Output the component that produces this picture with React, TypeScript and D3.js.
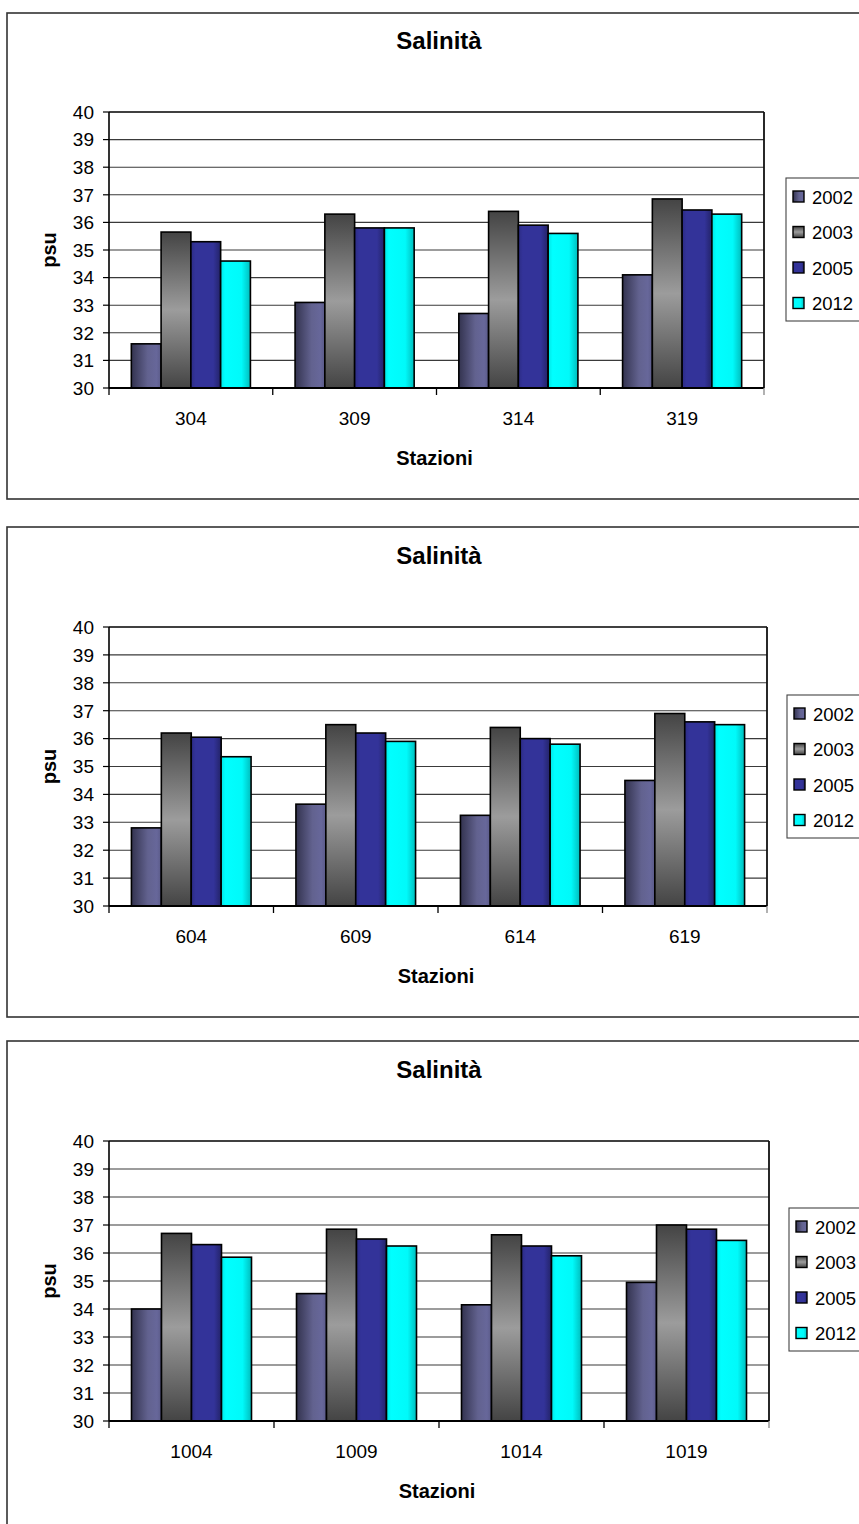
import React from "react";
import * as d3 from "d3";

// Series and categories
const years = ["2002", "2003", "2005", "2012"];
const yTicks = [30, 31, 32, 33, 34, 35, 36, 37, 38, 39, 40];

const stationsA = ["304", "309", "314", "319"];
const a2002 = [31.6, 33.1, 32.7, 34.1];
const a2003 = [35.65, 36.3, 36.4, 36.85];
const a2005 = [35.3, 35.8, 35.9, 36.45];
const a2012 = [34.6, 35.8, 35.6, 36.3];

const stationsB = ["604", "609", "614", "619"];
const b2002 = [32.8, 33.65, 33.25, 34.5];
const b2003 = [36.2, 36.5, 36.4, 36.9];
const b2005 = [36.05, 36.2, 36.0, 36.6];
const b2012 = [35.35, 35.9, 35.8, 36.5];

const stationsC = ["1004", "1009", "1014", "1019"];
const c2002 = [34.0, 34.55, 34.15, 34.95];
const c2003 = [36.7, 36.85, 36.65, 37.0];
const c2005 = [36.3, 36.5, 36.25, 36.85];
const c2012 = [35.85, 36.25, 35.9, 36.45];

const title = "Salinità";
const xTitle = "Stazioni";
const yTitle = "psu";

const FONT = "'Liberation Sans', Arial, Helvetica, sans-serif";

type Layout = {
  frameTop: number;
  frameBottom: number;
  left: number;
  right: number;
  top: number;
  bottom: number;
  legendX: number;
  legendY: number;
};

const layouts: Layout[] = [
  { frameTop: 13, frameBottom: 499, left: 109, right: 764, top: 112, bottom: 388, legendX: 786, legendY: 178 },
  { frameTop: 527, frameBottom: 1017, left: 109, right: 767, top: 627, bottom: 906, legendX: 787, legendY: 695 },
  { frameTop: 1041, frameBottom: 1560, left: 109, right: 769, top: 1141, bottom: 1421, legendX: 789, legendY: 1208 },
];

const fillFor = (year: string) => `url(#grad-${year})`;

function Gradients() {
  return (
    <defs>
      <linearGradient id="grad-2002" x1="0" y1="0" x2="1" y2="0">
        <stop offset="0" stopColor="#33334f" />
        <stop offset="0.55" stopColor="#62628f" />
        <stop offset="0.85" stopColor="#67679a" />
        <stop offset="1" stopColor="#5a5a88" />
      </linearGradient>
      <linearGradient id="grad-2003" x1="0" y1="0" x2="0" y2="1">
        <stop offset="0" stopColor="#444444" />
        <stop offset="0.5" stopColor="#9c9c9c" />
        <stop offset="1" stopColor="#444444" />
      </linearGradient>
      <linearGradient id="grad-2005" x1="0" y1="0" x2="1" y2="0">
        <stop offset="0" stopColor="#2c2c84" />
        <stop offset="0.15" stopColor="#333399" />
        <stop offset="0.75" stopColor="#333399" />
        <stop offset="1" stopColor="#232368" />
      </linearGradient>
      <linearGradient id="grad-2012" x1="0" y1="0" x2="1" y2="0">
        <stop offset="0" stopColor="#00e6e6" />
        <stop offset="0.15" stopColor="#00ffff" />
        <stop offset="0.7" stopColor="#00fafa" />
        <stop offset="1" stopColor="#00bdbd" />
      </linearGradient>
    </defs>
  );
}

function Panel({ stations, series, L }: { stations: string[]; series: number[][]; L: Layout }) {
  const x0 = d3.scaleBand<string>().domain(stations).range([L.left, L.right]).padding(0);
  const x1 = d3
    .scaleBand<string>()
    .domain(years)
    .range([0, x0.bandwidth()])
    .paddingInner(0)
    .paddingOuter(0.75);
  const y = d3.scaleLinear().domain([30, 40]).range([L.bottom, L.top]);
  const cx = (L.left + L.right) / 2;
  const cy = (L.top + L.bottom) / 2;
  const boundaries = [...stations.map((s) => x0(s) as number), L.right];

  return (
    <g>
      {/* outer chart frame */}
      <rect
        x={7}
        y={L.frameTop}
        width={900}
        height={L.frameBottom - L.frameTop}
        fill="#ffffff"
        stroke="#333333"
        strokeWidth={1.6}
      />
      <text x={439} y={L.top - 63} textAnchor="middle" fontFamily={FONT} fontWeight="bold" fontSize={24} fill="#000">
        {title}
      </text>

      {/* grid */}
      {yTicks.map((t) => (
        <line key={`g${t}`} x1={L.left} x2={L.right} y1={y(t)} y2={y(t)} stroke="#3a3a3a" strokeWidth={1.1} />
      ))}
      {yTicks.map((t) => (
        <g key={`t${t}`}>
          <line x1={L.left - 6} x2={L.left} y1={y(t)} y2={y(t)} stroke="#000" strokeWidth={1.2} />
          <text x={94} y={y(t)} dy="0.36em" textAnchor="end" fontFamily={FONT} fontSize={19} fill="#000">
            {t}
          </text>
        </g>
      ))}

      {/* bars */}
      {stations.map((s, i) => (
        <g key={s} transform={`translate(${x0(s)},0)`}>
          {years.map((yr, k) => {
            const v = series[k][i];
            return (
              <rect
                key={yr}
                x={x1(yr)}
                y={y(v)}
                width={x1.bandwidth()}
                height={y(30) - y(v)}
                fill={fillFor(yr)}
                stroke="#000"
                strokeWidth={1.6}
              />
            );
          })}
        </g>
      ))}

      {/* plot border and axes */}
      <line x1={L.left} x2={L.right} y1={L.top} y2={L.top} stroke="#222" strokeWidth={1.4} />
      <line x1={L.right} x2={L.right} y1={L.top} y2={L.bottom} stroke="#111" strokeWidth={1.8} />
      <line x1={L.left} x2={L.left} y1={L.top} y2={L.bottom} stroke="#000" strokeWidth={1.6} />
      <line x1={L.left} x2={L.right} y1={L.bottom} y2={L.bottom} stroke="#000" strokeWidth={2} />
      {boundaries.map((bx, i) => (
        <line
          key={`xb${i}`}
          x1={bx}
          x2={bx}
          y1={L.bottom}
          y2={L.bottom + 7}
          stroke={i === boundaries.length - 1 ? "#888" : "#000"}
          strokeWidth={1.3}
        />
      ))}
      {stations.map((s) => (
        <text
          key={`xl${s}`}
          x={(x0(s) as number) + x0.bandwidth() / 2}
          y={L.bottom + 37}
          textAnchor="middle"
          fontFamily={FONT}
          fontSize={19}
          fill="#000"
        >
          {s}
        </text>
      ))}
      <text x={cx - 2} y={L.bottom + 77} textAnchor="middle" fontFamily={FONT} fontWeight="bold" fontSize={20} fill="#000">
        {xTitle}
      </text>
      <text
        transform={`translate(56,${cy}) rotate(-90)`}
        textAnchor="middle"
        fontFamily={FONT}
        fontWeight="bold"
        fontSize={20}
        fill="#000"
      >
        {yTitle}
      </text>

      {/* legend */}
      <rect x={L.legendX} y={L.legendY} width={120} height={143} fill="#fff" stroke="#444" strokeWidth={1.1} />
      {years.map((yr, k) => {
        const iy = L.legendY + 19 + k * 35.5;
        return (
          <g key={`lg${yr}`}>
            <rect x={L.legendX + 7} y={iy - 6} width={11} height={11} fill={fillFor(yr)} stroke="#000" strokeWidth={1.4} />
            <text x={L.legendX + 26} y={iy} dy="0.36em" fontFamily={FONT} fontSize={18.5} fill="#000">
              {yr}
            </text>
          </g>
        );
      })}
    </g>
  );
}

export default function App() {
  return (
    <svg
      width={859}
      height={1524}
      viewBox="0 0 859 1524"
      style={{ position: "absolute", left: 0, top: 0, background: "#fff" }}
    >
      <Gradients />
      <rect x={0} y={0} width={859} height={1524} fill="#fff" />
      <Panel stations={stationsA} series={[a2002, a2003, a2005, a2012]} L={layouts[0]} />
      <Panel stations={stationsB} series={[b2002, b2003, b2005, b2012]} L={layouts[1]} />
      <Panel stations={stationsC} series={[c2002, c2003, c2005, c2012]} L={layouts[2]} />
    </svg>
  );
}
